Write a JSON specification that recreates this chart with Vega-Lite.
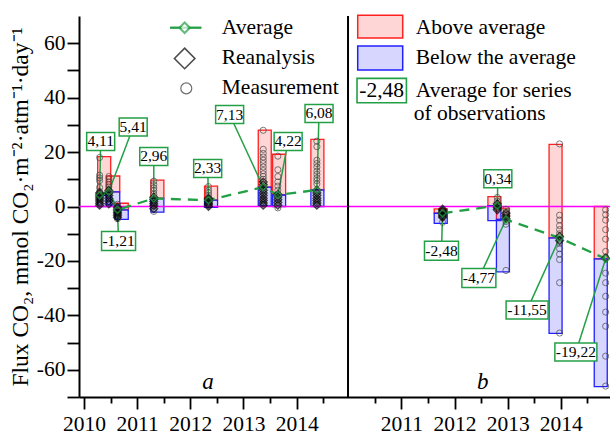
{
"$schema": "https://vega.github.io/schema/vega-lite/v6.json",
"width": 531, "height": 381,
"autosize": {"type": "none"},
"padding": {"left": 79, "top": 16, "right": 0, "bottom": 39},
"background": "white",
"config": {"view": {"stroke": null}, "font": "Liberation Serif",
  "axis": {"domainColor": "black", "domainWidth": 2, "tickColor": "black", "tickWidth": 1.8, "labelColor": "black", "labelFont": "Liberation Serif", "labelFontSize": 21.5, "titleFont": "Liberation Serif", "titleColor": "black", "titleFontWeight": "normal", "grid": false}},
"datasets": {
 "g": [
  {"p":"a","x":2010.38,"avg":4.11,"min":0,"max":18.3,"label":"4,11","lx":2010.40,"ly":23.9},
  {"p":"a","x":2010.55,"avg":5.41,"min":0.5,"max":11.2,"label":"5,41","lx":2011.00,"ly":29.2},
  {"p":"a","x":2010.71,"avg":-1.21,"min":-4.7,"max":1.2,"label":"-1,21","lx":2010.73,"ly":-12.7},
  {"p":"a","x":2011.38,"avg":2.96,"min":-2.1,"max":9.7,"label":"2,96","lx":2011.38,"ly":18.4},
  {"p":"a","x":2012.39,"avg":2.33,"min":-0.3,"max":7.5,"label":"2,33","lx":2012.375,"ly":14.0},
  {"p":"a","x":2013.40,"avg":7.13,"min":0.2,"max":28.1,"label":"7,13","lx":2012.78,"ly":33.8},
  {"p":"a","x":2013.67,"avg":4.22,"min":0,"max":19.2,"label":"4,22","lx":2013.86,"ly":23.9},
  {"p":"a","x":2014.39,"avg":6.08,"min":0,"max":24.7,"label":"6,08","lx":2014.43,"ly":34.2},
  {"p":"b","x":2011.74,"avg":-2.48,"min":-6.2,"max":-0.9,"label":"-2,48","lx":2011.72,"ly":-16.3},
  {"p":"b","x":2012.75,"avg":0.34,"min":-5.2,"max":3.6,"label":"0,34","lx":2012.76,"ly":10.2},
  {"p":"b","x":2012.91,"avg":-4.77,"min":-24.0,"max":-0.6,"label":"-4,77","lx":2012.41,"ly":-26.3},
  {"p":"b","x":2013.90,"avg":-11.55,"min":-46.6,"max":22.8,"label":"-11,55","lx":2013.30,"ly":-38.0},
  {"p":"b","x":2014.75,"avg":-19.22,"min":-66.2,"max":0,"label":"-19,22","lx":2014.20,"ly":-53.5}
 ],
 "pts": [
  {"p":"a","x":2010.38,"v":18.0,"k":"m"},{"p":"a","x":2010.38,"v":11.5,"k":"m"},{"p":"a","x":2010.38,"v":10.5,"k":"m"},{"p":"a","x":2010.38,"v":9.5,"k":"m"},{"p":"a","x":2010.38,"v":7.0,"k":"m"},{"p":"a","x":2010.38,"v":5.5,"k":"m"},
  {"p":"a","x":2010.38,"v":0.5,"k":"r"},{"p":"a","x":2010.38,"v":1.2,"k":"r"},{"p":"a","x":2010.38,"v":2.0,"k":"r"},{"p":"a","x":2010.38,"v":2.8,"k":"r"},{"p":"a","x":2010.38,"v":3.5,"k":"r"},{"p":"a","x":2010.38,"v":4.2,"k":"r"},{"p":"a","x":2010.38,"v":5.0,"k":"r"},
  {"p":"a","x":2010.55,"v":11.0,"k":"m"},{"p":"a","x":2010.55,"v":10.2,"k":"m"},{"p":"a","x":2010.55,"v":9.0,"k":"m"},{"p":"a","x":2010.55,"v":8.0,"k":"m"},{"p":"a","x":2010.55,"v":7.2,"k":"m"},{"p":"a","x":2010.55,"v":6.2,"k":"m"},
  {"p":"a","x":2010.55,"v":1.0,"k":"r"},{"p":"a","x":2010.55,"v":2.0,"k":"r"},{"p":"a","x":2010.55,"v":3.0,"k":"r"},{"p":"a","x":2010.55,"v":4.0,"k":"r"},{"p":"a","x":2010.55,"v":5.0,"k":"r"},{"p":"a","x":2010.55,"v":5.8,"k":"r"},
  {"p":"a","x":2010.71,"v":0.8,"k":"m"},{"p":"a","x":2010.71,"v":-4.5,"k":"m"},
  {"p":"a","x":2010.71,"v":-0.3,"k":"r"},{"p":"a","x":2010.71,"v":-1.0,"k":"r"},{"p":"a","x":2010.71,"v":-1.6,"k":"r"},{"p":"a","x":2010.71,"v":-2.2,"k":"r"},{"p":"a","x":2010.71,"v":-2.8,"k":"r"},{"p":"a","x":2010.71,"v":-3.4,"k":"r"},{"p":"a","x":2010.71,"v":-4.0,"k":"r"},
  {"p":"a","x":2011.38,"v":9.3,"k":"m"},{"p":"a","x":2011.38,"v":8.0,"k":"m"},{"p":"a","x":2011.38,"v":6.8,"k":"m"},{"p":"a","x":2011.38,"v":5.8,"k":"m"},{"p":"a","x":2011.38,"v":4.5,"k":"m"},{"p":"a","x":2011.38,"v":-1.8,"k":"m"},
  {"p":"a","x":2011.38,"v":-0.8,"k":"r"},{"p":"a","x":2011.38,"v":0.2,"k":"r"},{"p":"a","x":2011.38,"v":1.0,"k":"r"},{"p":"a","x":2011.38,"v":1.8,"k":"r"},{"p":"a","x":2011.38,"v":2.6,"k":"r"},{"p":"a","x":2011.38,"v":3.4,"k":"r"},
  {"p":"a","x":2012.39,"v":7.3,"k":"m"},{"p":"a","x":2012.39,"v":6.0,"k":"m"},{"p":"a","x":2012.39,"v":5.0,"k":"m"},{"p":"a","x":2012.39,"v":4.0,"k":"m"},
  {"p":"a","x":2012.39,"v":0.0,"k":"r"},{"p":"a","x":2012.39,"v":0.6,"k":"r"},{"p":"a","x":2012.39,"v":1.2,"k":"r"},{"p":"a","x":2012.39,"v":1.8,"k":"r"},{"p":"a","x":2012.39,"v":2.5,"k":"r"},{"p":"a","x":2012.39,"v":3.0,"k":"r"},
  {"p":"a","x":2013.40,"v":28.0,"k":"m"},{"p":"a","x":2013.40,"v":21.0,"k":"m"},{"p":"a","x":2013.40,"v":19.5,"k":"m"},{"p":"a","x":2013.40,"v":18.2,"k":"m"},{"p":"a","x":2013.40,"v":17.0,"k":"m"},{"p":"a","x":2013.40,"v":15.8,"k":"m"},{"p":"a","x":2013.40,"v":14.5,"k":"m"},{"p":"a","x":2013.40,"v":13.2,"k":"m"},{"p":"a","x":2013.40,"v":12.0,"k":"m"},{"p":"a","x":2013.40,"v":11.0,"k":"m"},{"p":"a","x":2013.40,"v":10.0,"k":"m"},
  {"p":"a","x":2013.40,"v":0.5,"k":"r"},{"p":"a","x":2013.40,"v":1.3,"k":"r"},{"p":"a","x":2013.40,"v":2.2,"k":"r"},{"p":"a","x":2013.40,"v":3.0,"k":"r"},{"p":"a","x":2013.40,"v":4.0,"k":"r"},{"p":"a","x":2013.40,"v":5.0,"k":"r"},{"p":"a","x":2013.40,"v":6.0,"k":"r"},{"p":"a","x":2013.40,"v":7.0,"k":"r"},{"p":"a","x":2013.40,"v":8.0,"k":"r"},{"p":"a","x":2013.40,"v":9.0,"k":"r"},
  {"p":"a","x":2013.67,"v":18.5,"k":"m"},{"p":"a","x":2013.67,"v":13.5,"k":"m"},{"p":"a","x":2013.67,"v":11.0,"k":"m"},{"p":"a","x":2013.67,"v":9.0,"k":"m"},{"p":"a","x":2013.67,"v":7.5,"k":"m"},{"p":"a","x":2013.67,"v":6.0,"k":"m"},{"p":"a","x":2013.67,"v":-0.5,"k":"m"},
  {"p":"a","x":2013.67,"v":0.5,"k":"r"},{"p":"a","x":2013.67,"v":1.5,"k":"r"},{"p":"a","x":2013.67,"v":2.5,"k":"r"},{"p":"a","x":2013.67,"v":3.5,"k":"r"},{"p":"a","x":2013.67,"v":4.5,"k":"r"},
  {"p":"a","x":2014.39,"v":24.0,"k":"m"},{"p":"a","x":2014.39,"v":22.0,"k":"m"},{"p":"a","x":2014.39,"v":17.0,"k":"m"},{"p":"a","x":2014.39,"v":15.8,"k":"m"},{"p":"a","x":2014.39,"v":14.5,"k":"m"},{"p":"a","x":2014.39,"v":13.0,"k":"m"},{"p":"a","x":2014.39,"v":11.8,"k":"m"},{"p":"a","x":2014.39,"v":10.5,"k":"m"},{"p":"a","x":2014.39,"v":9.5,"k":"m"},{"p":"a","x":2014.39,"v":8.3,"k":"m"},
  {"p":"a","x":2014.39,"v":0.5,"k":"r"},{"p":"a","x":2014.39,"v":1.3,"k":"r"},{"p":"a","x":2014.39,"v":2.2,"k":"r"},{"p":"a","x":2014.39,"v":3.0,"k":"r"},{"p":"a","x":2014.39,"v":4.0,"k":"r"},{"p":"a","x":2014.39,"v":5.0,"k":"r"},{"p":"a","x":2014.39,"v":6.0,"k":"r"},
  {"p":"b","x":2011.74,"v":-5.8,"k":"m"},
  {"p":"b","x":2011.74,"v":-1.0,"k":"r"},{"p":"b","x":2011.74,"v":-1.5,"k":"r"},{"p":"b","x":2011.74,"v":-2.0,"k":"r"},{"p":"b","x":2011.74,"v":-2.5,"k":"r"},{"p":"b","x":2011.74,"v":-3.0,"k":"r"},{"p":"b","x":2011.74,"v":-3.5,"k":"r"},{"p":"b","x":2011.74,"v":-4.0,"k":"r"},
  {"p":"b","x":2012.75,"v":3.3,"k":"m"},{"p":"b","x":2012.75,"v":2.0,"k":"m"},
  {"p":"b","x":2012.75,"v":1.0,"k":"r"},{"p":"b","x":2012.75,"v":0.3,"k":"r"},{"p":"b","x":2012.75,"v":-0.5,"k":"r"},{"p":"b","x":2012.75,"v":-1.2,"k":"r"},
  {"p":"b","x":2012.91,"v":-1.0,"k":"m"},{"p":"b","x":2012.91,"v":-2.0,"k":"m"},{"p":"b","x":2012.91,"v":-3.0,"k":"m"},{"p":"b","x":2012.91,"v":-4.2,"k":"m"},{"p":"b","x":2012.91,"v":-5.5,"k":"m"},{"p":"b","x":2012.91,"v":-6.5,"k":"m"},{"p":"b","x":2012.91,"v":-23.5,"k":"m"},
  {"p":"b","x":2012.91,"v":-2.5,"k":"r"},{"p":"b","x":2012.91,"v":-3.5,"k":"r"},{"p":"b","x":2012.91,"v":-4.5,"k":"r"},
  {"p":"b","x":2013.90,"v":23.0,"k":"m"},{"p":"b","x":2013.90,"v":-3.2,"k":"m"},{"p":"b","x":2013.90,"v":-5.0,"k":"m"},{"p":"b","x":2013.90,"v":-7.0,"k":"m"},{"p":"b","x":2013.90,"v":-8.5,"k":"m"},{"p":"b","x":2013.90,"v":-10.0,"k":"m"},{"p":"b","x":2013.90,"v":-12.0,"k":"m"},{"p":"b","x":2013.90,"v":-13.5,"k":"m"},{"p":"b","x":2013.90,"v":-15.5,"k":"m"},{"p":"b","x":2013.90,"v":-17.5,"k":"m"},{"p":"b","x":2013.90,"v":-19.5,"k":"m"},{"p":"b","x":2013.90,"v":-28.0,"k":"m"},{"p":"b","x":2013.90,"v":-46.5,"k":"m"},
  {"p":"b","x":2013.90,"v":-11.0,"k":"r"},{"p":"b","x":2013.90,"v":-12.5,"k":"r"},
  {"p":"b","x":2014.75,"v":-1.2,"k":"m"},{"p":"b","x":2014.75,"v":-3.0,"k":"m"},{"p":"b","x":2014.75,"v":-5.0,"k":"m"},{"p":"b","x":2014.75,"v":-8.5,"k":"m"},{"p":"b","x":2014.75,"v":-12.0,"k":"m"},{"p":"b","x":2014.75,"v":-16.5,"k":"m"},{"p":"b","x":2014.75,"v":-18.6,"k":"m"},{"p":"b","x":2014.75,"v":-24.5,"k":"m"},{"p":"b","x":2014.75,"v":-28.0,"k":"m"},{"p":"b","x":2014.75,"v":-33.0,"k":"m"},{"p":"b","x":2014.75,"v":-38.8,"k":"m"},{"p":"b","x":2014.75,"v":-44.0,"k":"m"},{"p":"b","x":2014.75,"v":-55.0,"k":"m"},{"p":"b","x":2014.75,"v":-66.0,"k":"m"},
  {"p":"b","x":2014.75,"v":-19.0,"k":"r"}
 ],
 "leg": [
  {"k":"line","x":2011.68,"x2":2012.26,"y":65.7},
  {"k":"avg","x":2011.95,"y":65.7},
  {"k":"rea","x":2011.95,"y":54.4},
  {"k":"mea","x":2011.98,"y":43.4},
  {"k":"red","x":2015.559,"y":66.07},
  {"k":"blue","x":2015.559,"y":54.6},
  {"k":"box","x":2015.587,"y":42.6,"t":"-2,48"},
  {"k":"text","x":2012.634,"y":65.6,"t":"Average"},
  {"k":"text","x":2012.634,"y":54.4,"t":"Reanalysis"},
  {"k":"text","x":2012.634,"y":43.4,"t":"Measurement"},
  {"k":"text","x":2016.214,"y":65.5,"t":"Above average"},
  {"k":"text","x":2016.214,"y":54.4,"t":"Below the average"},
  {"k":"text","x":2016.214,"y":42.4,"t":"Average for series"},
  {"k":"text","x":2016.177,"y":34.0,"t":"of observations"},
  {"k":"panel","x":2012.38,"y":-64.5,"t":"a"},
  {"k":"panel","x":2017.45,"y":-64.5,"t":"b"}
 ]
},
"resolve": {"scale": {"x": "independent"}, "axis": {"x": "independent", "y": "independent"}},
"layer": [
 {"data": {"name": "g"}, "transform": [{"filter": "datum.p == 'a'"}],
  "mark": {"type": "bar", "width": 13, "fill": "#ff3030", "fillOpacity": 0.2, "stroke": "#ff2020", "strokeWidth": 1.3},
  "encoding": {
   "x": {"field": "x", "type": "quantitative", "scale": {"domain": [2010, 2019.8], "nice": false, "zero": false},
     "axis": {"orient": "bottom", "title": null, "values": [2010, 2010.5, 2011, 2011.5, 2012, 2012.5, 2013, 2013.5, 2014, 2014.5],
       "labelExpr": "datum.value % 1 == 0 ? '' + datum.value : ''",
       "tickSize": {"condition": {"test": "datum.value % 1 == 0", "value": 12}, "value": 6},
       "labelPadding": 4}},
   "y": {"field": "avg", "type": "quantitative", "scale": {"domain": [-70, 70], "nice": false, "zero": false},
     "axis": {"title": "Flux CO₂, mmol CO₂·m⁻²·atm⁻¹·day⁻¹", "titleFontSize": 23.5, "titlePadding": 4,
       "values": [-70, -60, -50, -40, -30, -20, -10, 0, 10, 20, 30, 40, 50, 60],
       "labelExpr": "datum.value % 20 == 0 && datum.value > -70 ? '' + datum.value : ''",
       "tickSize": 12, "labelPadding": 2}},
   "y2": {"field": "max"}}},
 {"data": {"name": "g"}, "transform": [{"filter": "datum.p == 'a'"}],
  "mark": {"type": "bar", "width": 13, "fill": "#3030ff", "fillOpacity": 0.2, "stroke": "#2020ff", "strokeWidth": 1.3},
  "encoding": {
   "x": {"field": "x", "type": "quantitative", "scale": {"domain": [2010, 2019.8], "nice": false, "zero": false}, "axis": null},
   "y": {"field": "min", "type": "quantitative", "scale": {"domain": [-70, 70], "nice": false, "zero": false}, "axis": null},
   "y2": {"field": "avg"}}},
 {"data": {"name": "g"}, "transform": [{"filter": "datum.p == 'b'"}],
  "mark": {"type": "bar", "width": 13, "fill": "#ff3030", "fillOpacity": 0.2, "stroke": "#ff2020", "strokeWidth": 1.3},
  "encoding": {
   "x": {"field": "x", "type": "quantitative", "scale": {"domain": [2005.03, 2014.83], "nice": false, "zero": false},
     "axis": {"orient": "bottom", "title": null, "domain": false, "values": [2010.5, 2011, 2011.5, 2012, 2012.5, 2013, 2013.5, 2014, 2014.5],
       "labelExpr": "datum.value % 1 == 0 ? '' + datum.value : ''",
       "tickSize": {"condition": {"test": "datum.value % 1 == 0", "value": 12}, "value": 6},
       "labelPadding": 4}},
   "y": {"field": "avg", "type": "quantitative", "scale": {"domain": [-70, 70], "nice": false, "zero": false}, "axis": null},
   "y2": {"field": "max"}}},
 {"data": {"name": "g"}, "transform": [{"filter": "datum.p == 'b'"}],
  "mark": {"type": "bar", "width": 13, "fill": "#3030ff", "fillOpacity": 0.2, "stroke": "#2020ff", "strokeWidth": 1.3},
  "encoding": {
   "x": {"field": "x", "type": "quantitative", "scale": {"domain": [2005.03, 2014.83], "nice": false, "zero": false}, "axis": null},
   "y": {"field": "min", "type": "quantitative", "scale": {"domain": [-70, 70], "nice": false, "zero": false}, "axis": null},
   "y2": {"field": "avg"}}},
 {"data": {"values": [{}]},
  "mark": {"type": "rule", "color": "#ff00ff", "strokeWidth": 1.6},
  "encoding": {"y": {"datum": 0, "type": "quantitative", "scale": {"domain": [-70, 70], "nice": false, "zero": false}, "axis": null}}},
 {"data": {"name": "g"}, "transform": [{"filter": "datum.p == 'a'"}],
  "mark": {"type": "rule", "color": "#23a046", "strokeWidth": 1.5},
  "encoding": {
   "x": {"field": "lx", "type": "quantitative", "scale": {"domain": [2010, 2019.8], "nice": false, "zero": false}, "axis": null},
   "x2": {"field": "x"},
   "y": {"field": "ly", "type": "quantitative", "scale": {"domain": [-70, 70], "nice": false, "zero": false}, "axis": null},
   "y2": {"field": "avg"}}},
 {"data": {"name": "g"}, "transform": [{"filter": "datum.p == 'b'"}],
  "mark": {"type": "rule", "color": "#23a046", "strokeWidth": 1.5},
  "encoding": {
   "x": {"field": "lx", "type": "quantitative", "scale": {"domain": [2005.03, 2014.83], "nice": false, "zero": false}, "axis": null},
   "x2": {"field": "x"},
   "y": {"field": "ly", "type": "quantitative", "scale": {"domain": [-70, 70], "nice": false, "zero": false}, "axis": null},
   "y2": {"field": "avg"}}},
 {"data": {"name": "g"}, "transform": [{"filter": "datum.p == 'a'"}],
  "mark": {"type": "line", "color": "#23a046", "strokeWidth": 2.3, "strokeDash": [10, 7]},
  "encoding": {
   "x": {"field": "x", "type": "quantitative", "scale": {"domain": [2010, 2019.8], "nice": false, "zero": false}, "axis": null},
   "y": {"field": "avg", "type": "quantitative", "scale": {"domain": [-70, 70], "nice": false, "zero": false}, "axis": null}}},
 {"data": {"name": "g"}, "transform": [{"filter": "datum.p == 'b'"}],
  "mark": {"type": "line", "color": "#23a046", "strokeWidth": 2.3, "strokeDash": [10, 7]},
  "encoding": {
   "x": {"field": "x", "type": "quantitative", "scale": {"domain": [2005.03, 2014.83], "nice": false, "zero": false}, "axis": null},
   "y": {"field": "avg", "type": "quantitative", "scale": {"domain": [-70, 70], "nice": false, "zero": false}, "axis": null}}},
 {"data": {"name": "pts"}, "transform": [{"filter": "datum.p == 'a' && datum.k == 'm'"}],
  "mark": {"type": "point", "shape": "circle", "filled": false, "stroke": "#444444", "strokeWidth": 1, "size": 38},
  "encoding": {
   "x": {"field": "x", "type": "quantitative", "scale": {"domain": [2010, 2019.8], "nice": false, "zero": false}, "axis": null},
   "y": {"field": "v", "type": "quantitative", "scale": {"domain": [-70, 70], "nice": false, "zero": false}, "axis": null}}},
 {"data": {"name": "pts"}, "transform": [{"filter": "datum.p == 'b' && datum.k == 'm'"}],
  "mark": {"type": "point", "shape": "circle", "filled": false, "stroke": "#444444", "strokeWidth": 1, "size": 38},
  "encoding": {
   "x": {"field": "x", "type": "quantitative", "scale": {"domain": [2005.03, 2014.83], "nice": false, "zero": false}, "axis": null},
   "y": {"field": "v", "type": "quantitative", "scale": {"domain": [-70, 70], "nice": false, "zero": false}, "axis": null}}},
 {"data": {"name": "pts"}, "transform": [{"filter": "datum.p == 'a' && datum.k == 'r'"}],
  "mark": {"type": "point", "shape": "diamond", "filled": false, "stroke": "black", "strokeWidth": 1.4, "size": 60},
  "encoding": {
   "x": {"field": "x", "type": "quantitative", "scale": {"domain": [2010, 2019.8], "nice": false, "zero": false}, "axis": null},
   "y": {"field": "v", "type": "quantitative", "scale": {"domain": [-70, 70], "nice": false, "zero": false}, "axis": null}}},
 {"data": {"name": "pts"}, "transform": [{"filter": "datum.p == 'b' && datum.k == 'r'"}],
  "mark": {"type": "point", "shape": "diamond", "filled": false, "stroke": "black", "strokeWidth": 1.4, "size": 60},
  "encoding": {
   "x": {"field": "x", "type": "quantitative", "scale": {"domain": [2005.03, 2014.83], "nice": false, "zero": false}, "axis": null},
   "y": {"field": "v", "type": "quantitative", "scale": {"domain": [-70, 70], "nice": false, "zero": false}, "axis": null}}},
 {"data": {"name": "g"}, "transform": [{"filter": "datum.p == 'a'"}],
  "mark": {"type": "point", "shape": "diamond", "filled": false, "stroke": "#23a046", "strokeWidth": 1.6, "size": 50},
  "encoding": {
   "x": {"field": "x", "type": "quantitative", "scale": {"domain": [2010, 2019.8], "nice": false, "zero": false}, "axis": null},
   "y": {"field": "avg", "type": "quantitative", "scale": {"domain": [-70, 70], "nice": false, "zero": false}, "axis": null}}},
 {"data": {"name": "g"}, "transform": [{"filter": "datum.p == 'b'"}],
  "mark": {"type": "point", "shape": "diamond", "filled": false, "stroke": "#23a046", "strokeWidth": 1.6, "size": 50},
  "encoding": {
   "x": {"field": "x", "type": "quantitative", "scale": {"domain": [2005.03, 2014.83], "nice": false, "zero": false}, "axis": null},
   "y": {"field": "avg", "type": "quantitative", "scale": {"domain": [-70, 70], "nice": false, "zero": false}, "axis": null}}},
 {"data": {"name": "g"}, "transform": [{"filter": "datum.p == 'a' && length(datum.label) == 4"}],
  "mark": {"type": "rect", "fill": "white", "stroke": "#23a046", "strokeWidth": 1.5, "xOffset": -14, "x2Offset": 14, "yOffset": -9, "y2Offset": 9},
  "encoding": {
   "x": {"field": "lx", "type": "quantitative", "scale": {"domain": [2010, 2019.8], "nice": false, "zero": false}, "axis": null},
   "x2": {"field": "lx"},
   "y": {"field": "ly", "type": "quantitative", "scale": {"domain": [-70, 70], "nice": false, "zero": false}, "axis": null},
   "y2": {"field": "ly"}}},
 {"data": {"name": "g"}, "transform": [{"filter": "datum.p == 'a' && length(datum.label) == 5"}],
  "mark": {"type": "rect", "fill": "white", "stroke": "#23a046", "strokeWidth": 1.5, "xOffset": -17, "x2Offset": 17, "yOffset": -9.5, "y2Offset": 9.5},
  "encoding": {
   "x": {"field": "lx", "type": "quantitative", "scale": {"domain": [2010, 2019.8], "nice": false, "zero": false}, "axis": null},
   "x2": {"field": "lx"},
   "y": {"field": "ly", "type": "quantitative", "scale": {"domain": [-70, 70], "nice": false, "zero": false}, "axis": null},
   "y2": {"field": "ly"}}},
 {"data": {"name": "g"}, "transform": [{"filter": "datum.p == 'b' && length(datum.label) == 4"}],
  "mark": {"type": "rect", "fill": "white", "stroke": "#23a046", "strokeWidth": 1.5, "xOffset": -14, "x2Offset": 14, "yOffset": -9, "y2Offset": 9},
  "encoding": {
   "x": {"field": "lx", "type": "quantitative", "scale": {"domain": [2005.03, 2014.83], "nice": false, "zero": false}, "axis": null},
   "x2": {"field": "lx"},
   "y": {"field": "ly", "type": "quantitative", "scale": {"domain": [-70, 70], "nice": false, "zero": false}, "axis": null},
   "y2": {"field": "ly"}}},
 {"data": {"name": "g"}, "transform": [{"filter": "datum.p == 'b' && length(datum.label) == 5"}],
  "mark": {"type": "rect", "fill": "white", "stroke": "#23a046", "strokeWidth": 1.5, "xOffset": -17, "x2Offset": 17, "yOffset": -9.5, "y2Offset": 9.5},
  "encoding": {
   "x": {"field": "lx", "type": "quantitative", "scale": {"domain": [2005.03, 2014.83], "nice": false, "zero": false}, "axis": null},
   "x2": {"field": "lx"},
   "y": {"field": "ly", "type": "quantitative", "scale": {"domain": [-70, 70], "nice": false, "zero": false}, "axis": null},
   "y2": {"field": "ly"}}},
 {"data": {"name": "g"}, "transform": [{"filter": "datum.p == 'b' && length(datum.label) == 6"}],
  "mark": {"type": "rect", "fill": "white", "stroke": "#23a046", "strokeWidth": 1.5, "xOffset": -21, "x2Offset": 21, "yOffset": -9, "y2Offset": 9},
  "encoding": {
   "x": {"field": "lx", "type": "quantitative", "scale": {"domain": [2005.03, 2014.83], "nice": false, "zero": false}, "axis": null},
   "x2": {"field": "lx"},
   "y": {"field": "ly", "type": "quantitative", "scale": {"domain": [-70, 70], "nice": false, "zero": false}, "axis": null},
   "y2": {"field": "ly"}}},
 {"data": {"name": "g"}, "transform": [{"filter": "datum.p == 'a'"}],
  "mark": {"type": "text", "fontSize": 15.5, "font": "Liberation Serif", "color": "black", "align": "center", "baseline": "middle"},
  "encoding": {
   "x": {"field": "lx", "type": "quantitative", "scale": {"domain": [2010, 2019.8], "nice": false, "zero": false}, "axis": null},
   "y": {"field": "ly", "type": "quantitative", "scale": {"domain": [-70, 70], "nice": false, "zero": false}, "axis": null},
   "text": {"field": "label"}}},
 {"data": {"name": "g"}, "transform": [{"filter": "datum.p == 'b'"}],
  "mark": {"type": "text", "fontSize": 15.5, "font": "Liberation Serif", "color": "black", "align": "center", "baseline": "middle"},
  "encoding": {
   "x": {"field": "lx", "type": "quantitative", "scale": {"domain": [2005.03, 2014.83], "nice": false, "zero": false}, "axis": null},
   "y": {"field": "ly", "type": "quantitative", "scale": {"domain": [-70, 70], "nice": false, "zero": false}, "axis": null},
   "text": {"field": "label"}}},
 {"data": {"values": [{}]},
  "mark": {"type": "rule", "color": "black", "strokeWidth": 2},
  "encoding": {"x": {"datum": 2014.965, "type": "quantitative", "scale": {"domain": [2010, 2019.8], "nice": false, "zero": false}, "axis": null}}},
 {"data": {"name": "leg"}, "transform": [{"filter": "datum.k == 'line'"}],
  "mark": {"type": "rule", "color": "#23a046", "strokeWidth": 2.3},
  "encoding": {
   "x": {"field": "x", "type": "quantitative", "scale": {"domain": [2010, 2019.8], "nice": false, "zero": false}, "axis": null},
   "x2": {"field": "x2"},
   "y": {"field": "y", "type": "quantitative", "scale": {"domain": [-70, 70], "nice": false, "zero": false}, "axis": null}}},
 {"data": {"name": "leg"}, "transform": [{"filter": "datum.k == 'avg'"}],
  "mark": {"type": "point", "shape": "diamond", "filled": true, "fill": "white", "stroke": "#23a046", "strokeWidth": 2.2, "size": 110},
  "encoding": {
   "x": {"field": "x", "type": "quantitative", "scale": {"domain": [2010, 2019.8], "nice": false, "zero": false}, "axis": null},
   "y": {"field": "y", "type": "quantitative", "scale": {"domain": [-70, 70], "nice": false, "zero": false}, "axis": null}}},
 {"data": {"name": "leg"}, "transform": [{"filter": "datum.k == 'rea'"}],
  "mark": {"type": "point", "shape": "diamond", "filled": false, "stroke": "black", "strokeWidth": 1.6, "size": 420},
  "encoding": {
   "x": {"field": "x", "type": "quantitative", "scale": {"domain": [2010, 2019.8], "nice": false, "zero": false}, "axis": null},
   "y": {"field": "y", "type": "quantitative", "scale": {"domain": [-70, 70], "nice": false, "zero": false}, "axis": null}}},
 {"data": {"name": "leg"}, "transform": [{"filter": "datum.k == 'mea'"}],
  "mark": {"type": "point", "shape": "circle", "filled": false, "stroke": "#333333", "strokeWidth": 1.2, "size": 120},
  "encoding": {
   "x": {"field": "x", "type": "quantitative", "scale": {"domain": [2010, 2019.8], "nice": false, "zero": false}, "axis": null},
   "y": {"field": "y", "type": "quantitative", "scale": {"domain": [-70, 70], "nice": false, "zero": false}, "axis": null}}},
 {"data": {"name": "leg"}, "transform": [{"filter": "datum.k == 'red'"}],
  "mark": {"type": "rect", "fill": "#ff3030", "fillOpacity": 0.2, "stroke": "#ff2020", "strokeWidth": 1.5, "xOffset": -22.5, "x2Offset": 22.5, "yOffset": -11.4, "y2Offset": 11.4},
  "encoding": {
   "x": {"field": "x", "type": "quantitative", "scale": {"domain": [2010, 2019.8], "nice": false, "zero": false}, "axis": null},
   "x2": {"field": "x"},
   "y": {"field": "y", "type": "quantitative", "scale": {"domain": [-70, 70], "nice": false, "zero": false}, "axis": null},
   "y2": {"field": "y"}}},
 {"data": {"name": "leg"}, "transform": [{"filter": "datum.k == 'blue'"}],
  "mark": {"type": "rect", "fill": "#3030ff", "fillOpacity": 0.2, "stroke": "#2020ff", "strokeWidth": 1.5, "xOffset": -22.5, "x2Offset": 22.5, "yOffset": -12, "y2Offset": 12},
  "encoding": {
   "x": {"field": "x", "type": "quantitative", "scale": {"domain": [2010, 2019.8], "nice": false, "zero": false}, "axis": null},
   "x2": {"field": "x"},
   "y": {"field": "y", "type": "quantitative", "scale": {"domain": [-70, 70], "nice": false, "zero": false}, "axis": null},
   "y2": {"field": "y"}}},
 {"data": {"name": "leg"}, "transform": [{"filter": "datum.k == 'box'"}],
  "mark": {"type": "rect", "fill": "white", "stroke": "#23a046", "strokeWidth": 1.6, "xOffset": -24.7, "x2Offset": 24.7, "yOffset": -12.2, "y2Offset": 12.2},
  "encoding": {
   "x": {"field": "x", "type": "quantitative", "scale": {"domain": [2010, 2019.8], "nice": false, "zero": false}, "axis": null},
   "x2": {"field": "x"},
   "y": {"field": "y", "type": "quantitative", "scale": {"domain": [-70, 70], "nice": false, "zero": false}, "axis": null},
   "y2": {"field": "y"}}},
 {"data": {"name": "leg"}, "transform": [{"filter": "datum.k == 'box'"}],
  "mark": {"type": "text", "fontSize": 21.5, "font": "Liberation Serif", "color": "black", "align": "center", "baseline": "middle"},
  "encoding": {
   "x": {"field": "x", "type": "quantitative", "scale": {"domain": [2010, 2019.8], "nice": false, "zero": false}, "axis": null},
   "y": {"field": "y", "type": "quantitative", "scale": {"domain": [-70, 70], "nice": false, "zero": false}, "axis": null},
   "text": {"field": "t"}}},
 {"data": {"name": "leg"}, "transform": [{"filter": "datum.k == 'text'"}],
  "mark": {"type": "text", "fontSize": 21.5, "font": "Liberation Serif", "color": "black", "align": "left", "baseline": "middle"},
  "encoding": {
   "x": {"field": "x", "type": "quantitative", "scale": {"domain": [2010, 2019.8], "nice": false, "zero": false}, "axis": null},
   "y": {"field": "y", "type": "quantitative", "scale": {"domain": [-70, 70], "nice": false, "zero": false}, "axis": null},
   "text": {"field": "t"}}},
 {"data": {"name": "leg"}, "transform": [{"filter": "datum.k == 'panel'"}],
  "mark": {"type": "text", "fontSize": 23, "font": "Liberation Serif", "fontStyle": "italic", "color": "black", "align": "center", "baseline": "middle"},
  "encoding": {
   "x": {"field": "x", "type": "quantitative", "scale": {"domain": [2010, 2019.8], "nice": false, "zero": false}, "axis": null},
   "y": {"field": "y", "type": "quantitative", "scale": {"domain": [-70, 70], "nice": false, "zero": false}, "axis": null},
   "text": {"field": "t"}}}
]
}
